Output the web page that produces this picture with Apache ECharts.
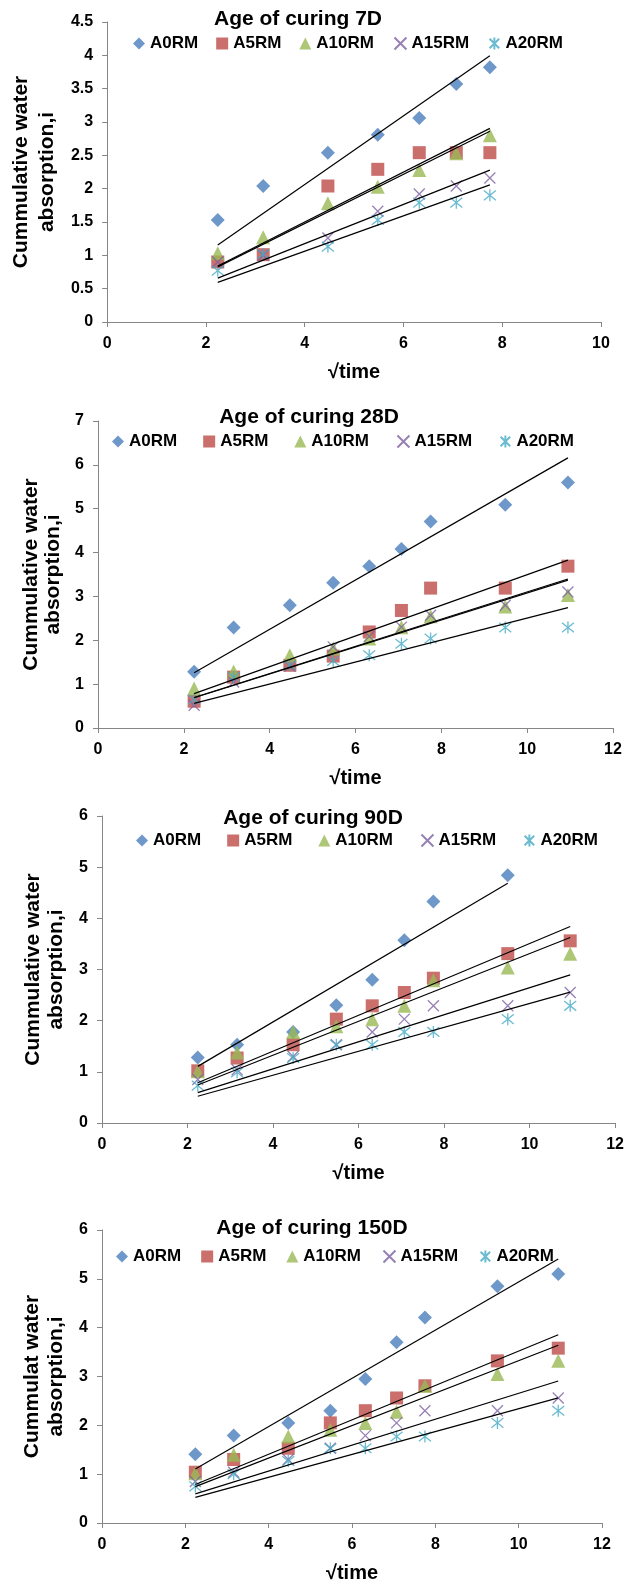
<!DOCTYPE html>
<html>
<head>
<meta charset="utf-8">
<script src="https://cdn.jsdelivr.net/npm/echarts@6/dist/echarts.min.js"></script>
<style>
html, body { margin: 0; padding: 0; background: #fff; }
#chart { width: 627px; height: 1585px; }
</style>
</head>
<body>
<div id="chart"></div>
<script>
// √time values (x)
const sqrtTime7 = [2.24, 3.16, 4.47, 5.48, 6.32, 7.07, 7.75]
const sqrtTime9 = [2.24, 3.16, 4.47, 5.48, 6.32, 7.07, 7.75, 9.49, 10.95]

const seriesNames = ["A0RM", "A5RM", "A10RM", "A15RM", "A20RM"]

// age of curing 7D
const d7_A0 = [1.53, 2.04, 2.54, 2.81, 3.06, 3.57, 3.82]
const d7_A5 = [0.90, 1.01, 2.04, 2.29, 2.54, 2.54, 2.54]
const d7_A10 = [1.03, 1.27, 1.78, 2.03, 2.28, 2.53, 2.80]
const d7_A15 = [0.90, 1.00, 1.26, 1.66, 1.92, 2.04, 2.16]
const d7_A20 = [0.77, 1.02, 1.13, 1.53, 1.79, 1.79, 1.90]

// age of curing 28D
const d28_A0 = [1.28, 2.29, 2.80, 3.31, 3.69, 4.08, 4.71, 5.09, 5.60]
const d28_A5 = [0.61, 1.16, 1.43, 1.64, 2.19, 2.68, 3.19, 3.19, 3.69]
const d28_A10 = [0.90, 1.29, 1.66, 1.81, 2.04, 2.30, 2.55, 2.77, 3.03]
const d28_A15 = [0.52, 1.05, 1.41, 1.85, 2.09, 2.30, 2.57, 2.80, 3.10]
const d28_A20 = [0.65, 1.16, 1.43, 1.53, 1.66, 1.92, 2.04, 2.29, 2.29]

// age of curing 90D (A0RM has no 120 point)
const d90_A0 = [1.28, 1.53, 1.78, 2.30, 2.80, 3.57, 4.33, 4.84]
const d90_A5 = [1.02, 1.27, 1.53, 2.03, 2.29, 2.55, 2.83, 3.31, 3.56]
const d90_A10 = [1.01, 1.38, 1.78, 1.89, 2.03, 2.29, 2.79, 3.04, 3.31]
const d90_A15 = [0.85, 1.04, 1.30, 1.53, 1.78, 2.03, 2.29, 2.29, 2.55]
const d90_A20 = [0.73, 0.99, 1.27, 1.53, 1.53, 1.78, 1.78, 2.03, 2.29]

// age of curing 150D
const d150_A0 = [1.41, 1.79, 2.05, 2.30, 2.95, 3.70, 4.21, 4.85, 5.10]
const d150_A5 = [1.04, 1.30, 1.53, 2.05, 2.30, 2.56, 2.81, 3.32, 3.58]
const d150_A10 = [1.02, 1.40, 1.77, 1.91, 2.05, 2.28, 2.81, 3.05, 3.32]
const d150_A15 = [0.85, 1.04, 1.30, 1.53, 1.79, 2.05, 2.30, 2.30, 2.56]
const d150_A20 = [0.75, 1.00, 1.27, 1.53, 1.53, 1.77, 1.77, 2.05, 2.30]

const xTicks7 = [0, 10, 2]
const xTicks = [0, 12, 2]
const yTicks7 = [0, 4.5, 0.5]
const yTicks = [0, 7, 1]
const yTicks90 = [0, 6, 1]

const panels = [
	{ title: "Age of curing 7D", yName: "Cummulative water\nabsorption,i", x: sqrtTime7, data: [d7_A0, d7_A5, d7_A10, d7_A15, d7_A20], xt: xTicks7, yt: yTicks7,
		grid: { left: 101, top: 22, width: 500, height: 300 }, titleX: 298, titleY: 9, legendX: 133, legendY: 35, legendGap: 18, yGap: 39, yLine: 26 },
	{ title: "Age of curing 28D", yName: "Cummulative water\nabsorption,i", x: sqrtTime9, data: [d28_A0, d28_A5, d28_A10, d28_A15, d28_A20], xt: xTicks, yt: yTicks,
		grid: { left: 98, top: 421, width: 515, height: 307 }, titleX: 309, titleY: 407, legendX: 112, legendY: 433, legendGap: 26, yGap: 33, yLine: 22 },
	{ title: "Age of curing 90D", yName: "Cummulative water\nabsorption,i", x: sqrtTime9, data: [d90_A0, d90_A5, d90_A10, d90_A15, d90_A20], xt: xTicks, yt: yTicks90,
		grid: { left: 102, top: 816, width: 515, height: 307 }, titleX: 313, titleY: 808, legendX: 136, legendY: 832, legendGap: 26, yGap: 26, yLine: 23 },
	{ title: "Age of curing 150D", yName: "Cummulat water\nabsorption,i", x: sqrtTime9, data: [d150_A0, d150_A5, d150_A10, d150_A15, d150_A20], xt: xTicks, yt: yTicks90,
		grid: { left: 102, top: 1230, width: 500, height: 293 }, titleX: 312, titleY: 1218, legendX: 116, legendY: 1248, legendGap: 20, yGap: 25, yLine: 24 },
]

const markerStyles = [
	{ symbol: "diamond", symbolSize: 14, itemStyle: { color: "#4A7EBB" } },
	{ symbol: "rect", symbolSize: 13, itemStyle: { color: "#BE4B48" } },
	{ symbol: "triangle", symbolSize: 14, itemStyle: { color: "#98B954" } },
	{ symbol: "path://M0,0L10,10M10,0L0,10", symbolSize: 11, itemStyle: { color: "none", borderColor: "#7D60A0", borderWidth: 1.3 } },
	{ symbol: "path://M1,1L9,9M9,1L1,9M5,0L5,10", symbolSize: 12, itemStyle: { color: "none", borderColor: "#46AAC5", borderWidth: 1.3 } },
]

const font = "'Liberation Sans', Arial, sans-serif"
const axisGray = "#868686"

// Excel-style linear trendline with intercept set to 0
const fitThroughOrigin = (xs, ys) => {
	let sxy = 0, sxx = 0
	ys.forEach((y, i) => { sxy += xs[i] * y; sxx += xs[i] * xs[i] })
	const k = sxy / sxx
	const x0 = xs[0], x1 = xs[ys.length - 1]
	return [[x0, k * x0], [x1, k * x1]]
}

const option = {
	animation: false,
	backgroundColor: "#fff",
	title: [], legend: [], grid: [], xAxis: [], yAxis: [], series: [],
}

panels.forEach((p, idx) => {
	option.title.push({
		text: p.title, left: p.titleX, top: p.titleY, textAlign: "center", padding: 0,
		textStyle: { fontFamily: font, fontSize: 21, fontWeight: "bold", color: "#000" },
	})
	option.legend.push({
		data: seriesNames, left: p.legendX, top: p.legendY, itemGap: p.legendGap, padding: 0,
		itemWidth: 12, itemHeight: 12, itemTextGap: 2,
		textStyle: { fontFamily: font, fontSize: 17, fontWeight: "bold", color: "#000" },
	})
	option.grid.push(p.grid)
	option.xAxis.push({
		gridIndex: idx, type: "value", min: p.xt[0], max: p.xt[1], interval: p.xt[2],
		name: "√time", nameLocation: "middle", nameGap: 40,
		nameTextStyle: { fontFamily: font, fontSize: 20, fontWeight: "bold", color: "#000" },
		axisLine: { show: true, lineStyle: { color: axisGray } },
		axisTick: { show: true, length: 5, lineStyle: { color: axisGray } },
		splitLine: { show: false },
		axisLabel: { fontFamily: font, fontSize: 16, fontWeight: "bold", color: "#000", margin: 14 },
	})
	option.yAxis.push({
		gridIndex: idx, type: "value", min: p.yt[0], max: p.yt[1], interval: p.yt[2],
		name: p.yName, nameLocation: "middle", nameGap: p.yGap,
		nameTextStyle: { fontFamily: font, fontSize: 21, fontWeight: "bold", color: "#000", lineHeight: p.yLine },
		axisLine: { show: true, lineStyle: { color: axisGray } },
		axisTick: { show: true, length: 5, lineStyle: { color: axisGray } },
		splitLine: { show: false },
		axisLabel: { fontFamily: font, fontSize: 16, fontWeight: "bold", color: "#000", margin: 14 },
	})
	p.data.forEach((ys, s) => {
		option.series.push({
			name: seriesNames[s], type: "scatter", xAxisIndex: idx, yAxisIndex: idx,
			symbol: markerStyles[s].symbol, symbolSize: markerStyles[s].symbolSize,
			itemStyle: markerStyles[s].itemStyle,
			data: ys.map((y, i) => [p.x[i], y]),
			z: 2,
		})
	})
	p.data.forEach((ys, s) => {
		option.series.push({
			name: "trend " + seriesNames[s], type: "line", xAxisIndex: idx, yAxisIndex: idx,
			showSymbol: false, silent: true,
			lineStyle: { color: "#000", width: 1.2 },
			data: fitThroughOrigin(p.x, ys),
			z: 3,
		})
	})
})

const chart = echarts.init(document.getElementById("chart"))
chart.setOption(option)
</script>
</body>
</html>
